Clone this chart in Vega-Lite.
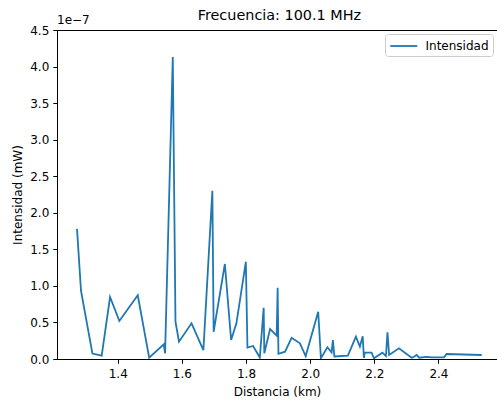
{
  "$schema": "https://vega.github.io/schema/vega-lite/v6.json",
  "autosize": {"type": "none"},
  "padding": {"left": 57, "top": 30, "right": 0, "bottom": 41},
  "width": 440,
  "height": 329,
  "background": "white",
  "config": {
    "font": "DejaVu Sans",
    "view": {"stroke": "black", "strokeWidth": 1},
    "axis": {
      "grid": false,
      "domainColor": "black",
      "domainWidth": 1,
      "tickColor": "black",
      "tickWidth": 1,
      "tickSize": 4.2,
      "labelColor": "black",
      "labelFontSize": 12,
      "labelPadding": 4,
      "labelOverlap": false,
      "labelFlush": false,
      "titleColor": "black",
      "titleFontSize": 12,
      "titleFontWeight": "normal"
    }
  },
  "layer": [
    {
      "data": {
        "values": [
          {"dist": 1.273, "val": 1.78e-7, "serie": "Intensidad"},
          {"dist": 1.2855, "val": 0.93e-7, "serie": "Intensidad"},
          {"dist": 1.321, "val": 0.075e-7, "serie": "Intensidad"},
          {"dist": 1.350, "val": 0.045e-7, "serie": "Intensidad"},
          {"dist": 1.376, "val": 0.848e-7, "serie": "Intensidad"},
          {"dist": 1.405, "val": 0.52e-7, "serie": "Intensidad"},
          {"dist": 1.4624, "val": 0.871e-7, "serie": "Intensidad"},
          {"dist": 1.498, "val": 0.018e-7, "serie": "Intensidad"},
          {"dist": 1.5435, "val": 0.20e-7, "serie": "Intensidad"},
          {"dist": 1.5476, "val": 0.078e-7, "serie": "Intensidad"},
          {"dist": 1.5716, "val": 4.13e-7, "serie": "Intensidad"},
          {"dist": 1.580, "val": 0.51e-7, "serie": "Intensidad"},
          {"dist": 1.591, "val": 0.237e-7, "serie": "Intensidad"},
          {"dist": 1.630, "val": 0.488e-7, "serie": "Intensidad"},
          {"dist": 1.667, "val": 0.12e-7, "serie": "Intensidad"},
          {"dist": 1.695, "val": 2.30e-7, "serie": "Intensidad"},
          {"dist": 1.699, "val": 0.373e-7, "serie": "Intensidad"},
          {"dist": 1.734, "val": 1.30e-7, "serie": "Intensidad"},
          {"dist": 1.7535, "val": 0.26e-7, "serie": "Intensidad"},
          {"dist": 1.770, "val": 0.488e-7, "serie": "Intensidad"},
          {"dist": 1.7994, "val": 1.33e-7, "serie": "Intensidad"},
          {"dist": 1.8044, "val": 0.155e-7, "serie": "Intensidad"},
          {"dist": 1.822, "val": 0.178e-7, "serie": "Intensidad"},
          {"dist": 1.843, "val": 0.02e-7, "serie": "Intensidad"},
          {"dist": 1.855, "val": 0.70e-7, "serie": "Intensidad"},
          {"dist": 1.857, "val": 0.078e-7, "serie": "Intensidad"},
          {"dist": 1.875, "val": 0.41e-7, "serie": "Intensidad"},
          {"dist": 1.8955, "val": 0.32e-7, "serie": "Intensidad"},
          {"dist": 1.8986, "val": 0.975e-7, "serie": "Intensidad"},
          {"dist": 1.901, "val": 0.07e-7, "serie": "Intensidad"},
          {"dist": 1.9217, "val": 0.10e-7, "serie": "Intensidad"},
          {"dist": 1.942, "val": 0.29e-7, "serie": "Intensidad"},
          {"dist": 1.968, "val": 0.215e-7, "serie": "Intensidad"},
          {"dist": 1.986, "val": 0.04e-7, "serie": "Intensidad"},
          {"dist": 2.025, "val": 0.647e-7, "serie": "Intensidad"},
          {"dist": 2.0334, "val": 0.01e-7, "serie": "Intensidad"},
          {"dist": 2.0537, "val": 0.16e-7, "serie": "Intensidad"},
          {"dist": 2.0668, "val": 0.09e-7, "serie": "Intensidad"},
          {"dist": 2.0708, "val": 0.26e-7, "serie": "Intensidad"},
          {"dist": 2.0755, "val": 0.035e-7, "serie": "Intensidad"},
          {"dist": 2.1176, "val": 0.045e-7, "serie": "Intensidad"},
          {"dist": 2.1426, "val": 0.305e-7, "serie": "Intensidad"},
          {"dist": 2.155, "val": 0.17e-7, "serie": "Intensidad"},
          {"dist": 2.1638, "val": 0.31e-7, "serie": "Intensidad"},
          {"dist": 2.1675, "val": 0.015e-7, "serie": "Intensidad"},
          {"dist": 2.170, "val": 0.086e-7, "serie": "Intensidad"},
          {"dist": 2.1916, "val": 0.086e-7, "serie": "Intensidad"},
          {"dist": 2.1988, "val": 0.01e-7, "serie": "Intensidad"},
          {"dist": 2.2253, "val": 0.086e-7, "serie": "Intensidad"},
          {"dist": 2.2362, "val": 0.04e-7, "serie": "Intensidad"},
          {"dist": 2.241, "val": 0.365e-7, "serie": "Intensidad"},
          {"dist": 2.2462, "val": 0.055e-7, "serie": "Intensidad"},
          {"dist": 2.2768, "val": 0.146e-7, "serie": "Intensidad"},
          {"dist": 2.3164, "val": 0.018e-7, "serie": "Intensidad"},
          {"dist": 2.3236, "val": 0.03e-7, "serie": "Intensidad"},
          {"dist": 2.332, "val": 0.055e-7, "serie": "Intensidad"},
          {"dist": 2.340, "val": 0.018e-7, "serie": "Intensidad"},
          {"dist": 2.363, "val": 0.03e-7, "serie": "Intensidad"},
          {"dist": 2.3788, "val": 0.023e-7, "serie": "Intensidad"},
          {"dist": 2.4172, "val": 0.023e-7, "serie": "Intensidad"},
          {"dist": 2.425, "val": 0.068e-7, "serie": "Intensidad"},
          {"dist": 2.5348, "val": 0.055e-7, "serie": "Intensidad"}
        ]
      },
      "mark": {"type": "line", "strokeWidth": 1.8, "interpolate": "linear", "clip": true},
      "encoding": {
        "x": {
          "field": "dist",
          "type": "quantitative",
          "scale": {"domain": [1.2106, 2.5825], "nice": false, "zero": false},
          "axis": {"title": "Distancia (km)", "values": [1.4, 1.6, 1.8, 2.0, 2.2, 2.4], "tickCount": 20, "format": ".1f", "labelPadding": 5, "titlePadding": 7}
        },
        "y": {
          "field": "val",
          "type": "quantitative",
          "scale": {"domain": [0, 4.5e-7], "nice": false},
          "axis": {
            "title": "Intensidad (mW)",
            "values": [0, 0.5e-7, 1e-7, 1.5e-7, 2e-7, 2.5e-7, 3e-7, 3.5e-7, 4e-7, 4.5e-7],
            "tickCount": 20,
            "labelExpr": "format(datum.value * 1e7, '.1f')",
            "titlePadding": 5
          }
        },
        "color": {
          "field": "serie",
          "type": "nominal",
          "scale": {"range": ["#1f77b4"]},
          "legend": {
            "title": null,
            "orient": "none",
            "legendX": 328,
            "legendY": 4,
            "symbolType": "M-1,0H3",
            "symbolSize": 182,
            "symbolStrokeWidth": 1.8,
            "symbolFillColor": "transparent",
            "labelOffset": 20.5,
            "labelFontSize": 12,
            "labelColor": "black",
            "strokeColor": "#cccccc",
            "fillColor": "white",
            "cornerRadius": 3,
            "padding": 4
          }
        }
      }
    },
    {
      "data": {"values": [{"etiqueta": "1e−7"}]},
      "mark": {"type": "text", "align": "left", "baseline": "alphabetic", "dy": -6, "fontSize": 12, "color": "black"},
      "encoding": {
        "x": {"datum": 1.2106, "type": "quantitative"},
        "y": {"datum": 4.5e-7, "type": "quantitative"},
        "text": {"field": "etiqueta", "type": "nominal"}
      }
    },
    {
      "data": {"values": [{"titulo": "Frecuencia: 100.1 MHz"}]},
      "mark": {"type": "text", "align": "center", "baseline": "alphabetic", "dy": -10, "fontSize": 14.4, "color": "black"},
      "encoding": {
        "x": {"datum": 1.904, "type": "quantitative"},
        "y": {"datum": 4.5e-7, "type": "quantitative"},
        "text": {"field": "titulo", "type": "nominal"}
      }
    }
  ]
}
